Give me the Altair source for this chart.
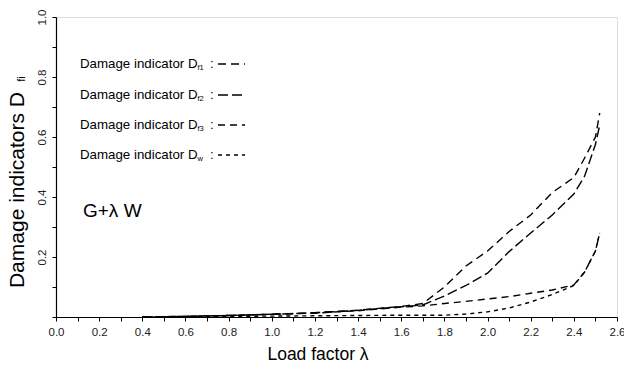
import altair as alt
import pandas as pd

# Load factor values (shared by all series)
lam = [0.4, 0.6, 0.8, 1.0, 1.2, 1.4, 1.6, 1.7, 1.8, 1.9, 2.0, 2.1, 2.2, 2.3, 2.4, 2.45, 2.5, 2.52]

# Damage indicators
d_f1 = [0.0, 0.002, 0.005, 0.009, 0.014, 0.023, 0.035, 0.045, 0.10, 0.17, 0.22, 0.285, 0.34, 0.415, 0.465, 0.53, 0.60, 0.68]
d_f2 = [0.0, 0.002, 0.005, 0.009, 0.014, 0.022, 0.034, 0.040, 0.07, 0.105, 0.146, 0.218, 0.28, 0.34, 0.41, 0.47, 0.575, 0.64]
d_f3 = [0.0, 0.002, 0.005, 0.009, 0.013, 0.021, 0.033, 0.037, 0.045, 0.052, 0.060, 0.068, 0.079, 0.090, 0.107, 0.15, 0.22, 0.28]
d_w = [0.0, 0.001, 0.002, 0.003, 0.004, 0.005, 0.006, 0.006, 0.006, 0.010, 0.017, 0.030, 0.050, 0.075, 0.105, 0.15, 0.22, 0.28]

series_names = ["Df1", "Df2", "Df3", "Dw"]
series_values = [d_f1, d_f2, d_f3, d_w]
dashes = [[8, 5], [10, 4], [7, 5], [4, 4]]

rows = []
for name, vals in zip(series_names, series_values):
    for l, v in zip(lam, vals):
        rows.append({"lam": l, "D": v, "series": name})
df = pd.DataFrame(rows)

FONT = "Liberation Sans"
dash_scale = alt.Scale(domain=series_names, range=dashes)

x_ticks = [round(i * 0.1, 1) for i in range(27)]
y_ticks = [round(i * 0.1, 1) for i in range(11)]

lines = alt.Chart(df).mark_line(color="black", strokeWidth=1.4).encode(
    x=alt.X("lam:Q", scale=alt.Scale(domain=[0, 2.6], nice=False),
            axis=alt.Axis(values=x_ticks, title=None, grid=False,
                          labelExpr="round(datum.value*10) % 2 == 0 ? format(datum.value, '.1f') : ''",
                          labelFont=FONT, labelFontSize=11.5, labelColor="#222",
                          tickSize=4, tickColor="black", domainColor="black",
                          domainWidth=1.2, labelPadding=5, labelFlush=False)),
    y=alt.Y("D:Q", scale=alt.Scale(domain=[0, 1], nice=False),
            axis=alt.Axis(values=y_ticks, title=None, grid=False,
                          labelExpr="datum.value > 0.15 && round(datum.value*10) % 2 == 0 ? format(datum.value, '.1f') : ''",
                          labelFont=FONT, labelFontSize=11.5, labelColor="#222",
                          labelAngle=-90, labelAlign="center", labelBaseline="bottom",
                          tickSize=4, tickColor="black", domainColor="black",
                          domainWidth=1.2, labelPadding=5, labelFlush=False)),
    strokeDash=alt.StrokeDash("series:N", scale=dash_scale, legend=None),
    detail="series:N",
)

layers = [lines]

# Custom legend
legend_y = [47, 78, 108, 138]
legend_sub = ["f1", "f2", "f3", "w"]
for i, (name, sub) in enumerate(zip(series_names, legend_sub)):
    ly = legend_y[i]
    layers.append(alt.Chart().mark_text(align="left", baseline="middle", font=FONT,
                                        fontSize=13.3, color="black").encode(
        x=alt.value(24), y=alt.value(ly), text=alt.value("Damage indicator D")))
    layers.append(alt.Chart().mark_text(align="left", baseline="middle", font=FONT,
                                        fontSize=7.5, color="black").encode(
        x=alt.value(141.5), y=alt.value(ly + 4), text=alt.value(sub)))
    layers.append(alt.Chart().mark_text(align="left", baseline="middle", font=FONT,
                                        fontSize=13, color="black").encode(
        x=alt.value(154), y=alt.value(ly), text=alt.value(":")))
    layers.append(alt.Chart().mark_rule(color="black", strokeWidth=1.3,
                                        strokeDash=dashes[i]).encode(
        x=alt.value(162), x2=alt.value(189), y=alt.value(ly)))

# Annotation G+λW
layers.append(alt.Chart().mark_text(align="left", baseline="middle", font=FONT,
                                    fontSize=19, color="black").encode(
    x=alt.value(27), y=alt.value(194), text=alt.value("G+λ W")))

# X axis title
layers.append(alt.Chart().mark_text(align="center", baseline="middle", font=FONT,
                                    fontSize=17.5, color="black").encode(
    x=alt.value(262), y=alt.value(338), text=alt.value("Load factor λ")))

# Y axis title (rotated) with subscript
layers.append(alt.Chart().mark_text(align="center", baseline="middle", font=FONT,
                                    fontSize=21, angle=270, color="black").encode(
    x=alt.value(-38), y=alt.value(173), text=alt.value("Damage indicators D")))
layers.append(alt.Chart().mark_text(align="center", baseline="middle", font=FONT,
                                    fontSize=11, angle=270, color="black").encode(
    x=alt.value(-34), y=alt.value(62), text=alt.value("fi")))

chart = alt.layer(*layers).properties(
    width=561, height=300,
    autosize=alt.AutoSizeParams(type="none"),
    padding={"left": 56, "top": 17, "right": 7, "bottom": 48},
).configure_view(stroke=None).configure(background="white")

chart.save("out.html", embed_options={"renderer": "svg", "actions": False})
